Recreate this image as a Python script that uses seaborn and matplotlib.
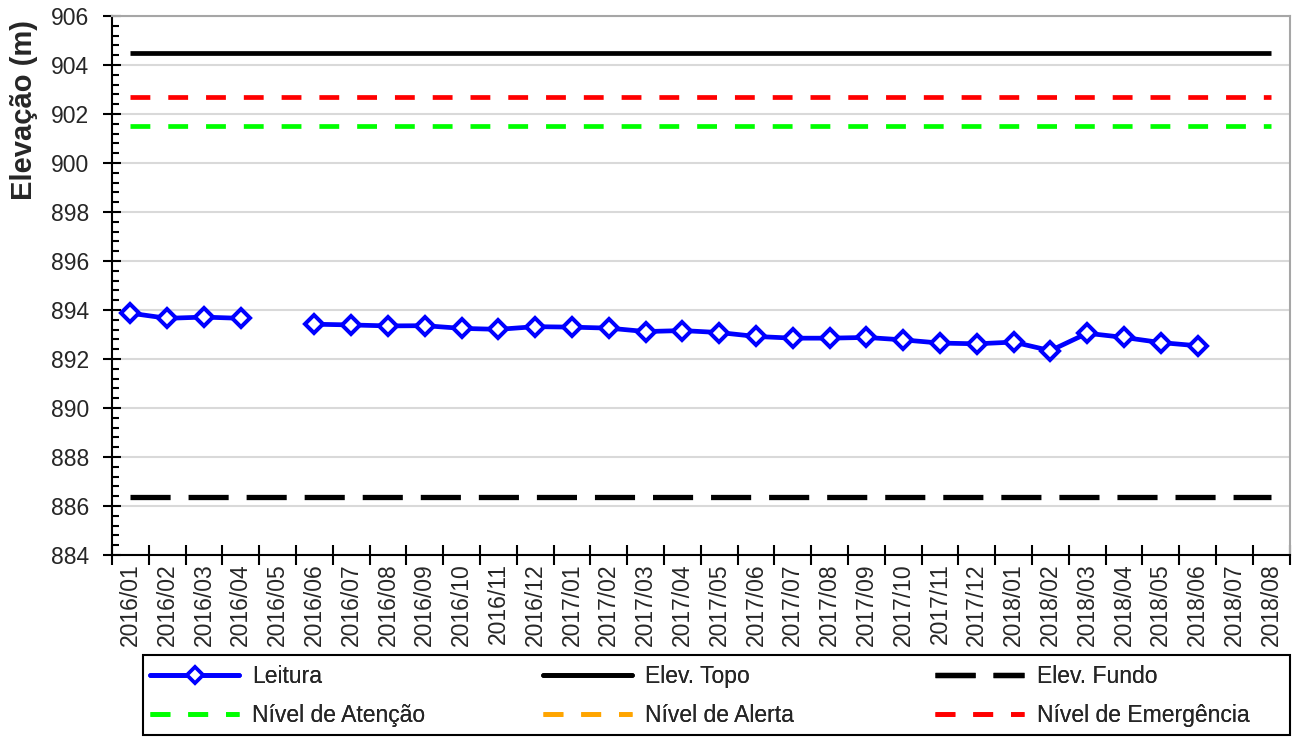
import matplotlib
matplotlib.use('Agg')
import matplotlib.pyplot as plt
from matplotlib.ticker import MultipleLocator
from matplotlib.patches import Rectangle
from matplotlib.lines import Line2D
import numpy as np
import pandas as pd
import seaborn as sns

# dados
meses = ['2016/01', '2016/02', '2016/03', '2016/04', '2016/05', '2016/06', '2016/07', '2016/08',
         '2016/09', '2016/10', '2016/11', '2016/12', '2017/01', '2017/02', '2017/03', '2017/04',
         '2017/05', '2017/06', '2017/07', '2017/08', '2017/09', '2017/10', '2017/11', '2017/12',
         '2018/01', '2018/02', '2018/03', '2018/04', '2018/05', '2018/06', '2018/07', '2018/08']
leitura = [893.87, 893.66, 893.71, 893.66, np.nan, 893.42, 893.39, 893.35,
           893.36, 893.25, 893.21, 893.32, 893.30, 893.26, 893.12, 893.16,
           893.08, 892.92, 892.85, 892.85, 892.88, 892.78, 892.65, 892.62,
           892.69, 892.34, 893.05, 892.88, 892.67, 892.54, np.nan, np.nan]
elev_topo = 904.5
elev_fundo = 886.37
nivel_atencao = 901.5
nivel_emergencia = 902.7

sns.set_theme(style='white')
plt.rcParams['font.family'] = ['Liberation Sans', 'DejaVu Sans']

df = pd.DataFrame({'pos': np.arange(len(meses)), 'leitura': leitura})
df['trecho'] = df['leitura'].isna().cumsum()  # separa os trechos com falha
df = df.dropna()

fig = plt.figure(figsize=(12.98, 7.38), dpi=100)
ax = fig.add_axes([0.0863, 0.248, 0.9072, 0.7303])

x0, x1 = 0, len(meses) - 1
ax.hlines(elev_topo, x0, x1, color='black', lw=3.4)
ax.hlines(elev_fundo, x0, x1, color='black', lw=3.8, linestyles=(0, (7.6, 3.4)))
ax.hlines(nivel_atencao, x0, x1, color='#00FF00', lw=3.4, linestyles=(0, (4.2, 3.8)))
ax.hlines(nivel_emergencia, x0, x1, color='#FF0000', lw=3.4, linestyles=(0, (4.2, 3.8)))

sns.lineplot(data=df, x='pos', y='leitura', units='trecho', estimator=None, ax=ax,
             color='#0000FF', lw=3.4, marker='D', markersize=9.5, markerfacecolor='white',
             markeredgecolor='#0000FF', markeredgewidth=2.9, legend=False)

ax.set_xlim(-0.5, len(meses) - 0.5)
ax.set_ylim(884, 906)
ax.set_xticks(np.arange(len(meses) + 1) - 0.5)
ax.set_xticklabels([])
ax.set_xticks(np.arange(len(meses)), minor=True)
ax.set_xticklabels(meses, minor=True, rotation=90, fontsize=16.5)
ax.tick_params(axis='x', which='major', direction='inout', length=14, width=1.5, color='black', bottom=True)
ax.tick_params(axis='x', which='minor', length=0, pad=6, bottom=True)
ax.yaxis.set_major_locator(MultipleLocator(2))
ax.yaxis.set_minor_locator(MultipleLocator(0.4))
ax.tick_params(axis='y', which='major', direction='inout', length=13, width=1.5, color='black',
               labelsize=16.5, pad=10, left=True)
ax.tick_params(axis='y', which='minor', direction='in', length=5, width=1.5, color='black', left=True)
ax.set_xlabel('')
ax.set_ylabel('Elevação (m)', fontsize=21, fontweight='bold', va='center')
ax.yaxis.set_label_coords(-0.0745, 0.826)

ax.yaxis.grid(True, color='#D9D9D9', lw=1.5)
ax.xaxis.grid(False)
ax.set_axisbelow(True)
for s in ['left', 'bottom']:
    ax.spines[s].set_color('black')
    ax.spines[s].set_linewidth(1.5)
for s in ['top', 'right']:
    ax.spines[s].set_color('#A6A6A6')
    ax.spines[s].set_linewidth(1.5)

# legenda em três colunas dentro de uma moldura
h_leitura = Line2D([], [], color='#0000FF', lw=3.4, marker='D', markersize=8,
                   markerfacecolor='white', markeredgecolor='#0000FF', markeredgewidth=2.6)
h_topo = Line2D([], [], color='black', lw=3.4)
h_fundo = Line2D([], [], color='black', lw=3.8, ls=(0, (7.6, 3.4)))
h_atencao = Line2D([], [], color='#00FF00', lw=3.4, ls=(0, (4.2, 3.8)))
h_alerta = Line2D([], [], color='#FFA500', lw=3.4, ls=(0, (4.2, 3.8)))
h_emerg = Line2D([], [], color='#FF0000', lw=3.4, ls=(0, (4.2, 3.8)))
colunas = [([h_leitura, h_atencao], ['Leitura', 'Nível de Atenção'], 150),
           ([h_topo, h_alerta], ['Elev. Topo', 'Nível de Alerta'], 543),
           ([h_fundo, h_emerg], ['Elev. Fundo', 'Nível de Emergência'], 935)]
for hs, ls, xp in colunas:
    leg = fig.legend(hs, ls, loc='center left', bbox_to_anchor=(xp / 1298, 1 - 696 / 738),
                     frameon=False, fontsize=16.5, handlelength=3.9, handletextpad=0.55,
                     labelspacing=0.7, borderpad=0, borderaxespad=0, numpoints=1)
    fig.add_artist(leg)
fig.patches.append(Rectangle((143 / 1298, 3 / 738), 1147 / 1298, 80 / 738, transform=fig.transFigure,
                             fill=False, edgecolor='black', lw=1.5))

fig.savefig('out.png', dpi=100)
